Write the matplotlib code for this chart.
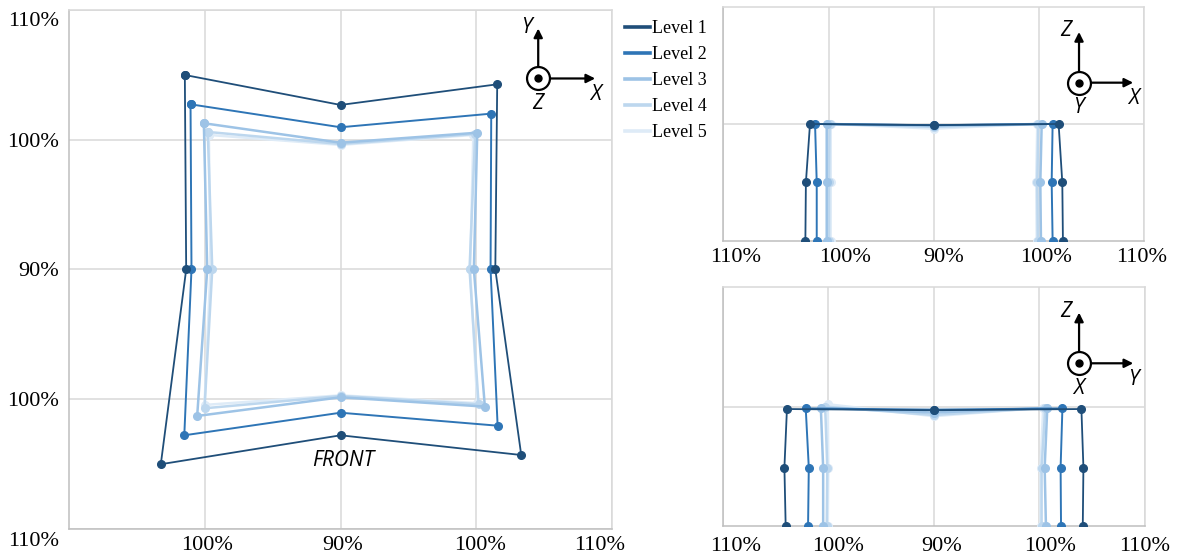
import matplotlib
matplotlib.use('Agg')
import matplotlib.pyplot as plt
from matplotlib import transforms
from matplotlib.lines import Line2D

plt.rcParams['font.family'] = 'Liberation Serif'

levels = ['Level 1', 'Level 2', 'Level 3', 'Level 4', 'Level 5']
colors = ['#1f4e79', '#2e75b6', '#9dc3e6', '#bdd7ee', '#deebf7']
widths = [1.3, 1.4, 1.8, 1.8, 1.8]

# plan view, 8 nodes per level: TL, TM, TR, RM, BR, BM, BL, LM (closed loop)
plan_x = [
    [-11.47, 0, 11.54, 11.40, 13.31, 0, -13.24, -11.37],
    [-11.05, 0, 11.10, 11.05, 11.57, 0, -11.51, -10.98],
    [-10.07, 0, 10.07, 9.82, 10.63, 0, -10.56, -9.82],
    [-9.78, 0, 9.92, 9.50, 10.17, 0, -10.02, -9.45],
    [-9.70, 0, 9.78, 9.55, 10.07, 0, -10.02, -9.58],
]
plan_y = [
    [14.99, 12.68, 14.27, 0, -14.30, -12.78, -15.01, 0],
    [12.73, 10.96, 12.01, 0, -12.04, -11.04, -12.78, 0],
    [11.27, 9.77, 10.54, 0, -10.57, -9.85, -11.29, 0],
    [10.60, 9.67, 10.44, 0, -10.39, -9.75, -10.70, 0],
    [10.37, 9.60, 10.37, 0, -10.30, -9.70, -10.44, 0],
]

# XZ elevation, 7 nodes: LB, LM, LT, CT, RT, RM, RB
xz_x = [
    [-12.20, -12.15, -11.76, 0, 11.88, 12.23, 12.29],
    [-11.12, -11.12, -11.28, 0, 11.31, 11.22, 11.31],
    [-10.17, -10.17, -10.17, 0, 10.27, 10.14, 10.20],
    [-9.95, -9.95, -9.90, 0, 9.95, 9.85, 9.90],
    [-9.80, -9.79, -9.79, 0, 9.85, 9.75, 9.80],
]
xz_z = [
    [0, 0.50, 1.00, 0.99, 1.00, 0.50, 0],
    [0, 0.50, 1.00, 0.99, 1.00, 0.50, 0],
    [0, 0.50, 1.00, 0.985, 1.00, 0.50, 0],
    [0, 0.50, 1.00, 0.975, 1.00, 0.50, 0],
    [0, 0.50, 1.00, 0.96, 1.00, 0.50, 0],
]

# YZ elevation, same node order
yz_y = [
    [-14.04, -14.16, -13.92, 0, 13.97, 14.16, 14.10],
    [-11.92, -11.85, -12.14, 0, 12.17, 12.00, 12.04],
    [-10.49, -10.49, -10.71, 0, 10.74, 10.49, 10.61],
    [-10.15, -10.10, -10.30, 0, 10.55, 10.20, 10.20],
    [-10.05, -10.00, -10.05, 0, 10.35, 10.10, 10.10],
]
yz_z = [
    [0, 0.49, 0.98, 0.97, 0.98, 0.49, 0],
    [0, 0.49, 0.985, 0.975, 0.985, 0.49, 0],
    [0, 0.49, 0.99, 0.95, 0.99, 0.49, 0],
    [0, 0.49, 1.00, 0.93, 0.99, 0.49, 0],
    [0, 0.49, 1.02, 0.92, 0.99, 0.49, 0],
]

pct_ticks = [-20, -10, 0, 10, 20]
pct_labels = ['110%', '100%', '90%', '100%', '110%']

fig = plt.figure(figsize=(11.8, 5.6), dpi=100)
ax_plan = fig.add_axes([0.0585, 0.0554, 0.4602, 0.9268])
ax_xz = fig.add_axes([0.6130, 0.5702, 0.3565, 0.4168])
ax_yz = fig.add_axes([0.6125, 0.0607, 0.3579, 0.4263])


def style(ax):
    ax.set_xlim(-20, 20)
    for side in ['top', 'right']:
        ax.spines[side].set_color('#d9d9d9')
    for side in ['left', 'bottom']:
        ax.spines[side].set_color('#bfbfbf')
    for sp in ax.spines.values():
        sp.set_linewidth(1.1)
    ax.grid(True, color='#d9d9d9', lw=1.1)
    ax.set_axisbelow(True)
    ax.tick_params(length=0, labelsize=16, pad=5)


def nudge(labels, dxs, dys=None):
    # shift tick labels by pixels (dy > 0 moves down)
    if dys is None:
        dys = [0] * len(dxs)
    for lab, dx, dy in zip(labels, dxs, dys):
        lab.set_transform(lab.get_transform() +
                          transforms.ScaledTranslation(dx / 100, -dy / 100, fig.dpi_scale_trans))


def triad(ax, cx, cy, hlab, vlab, clab, hlen, vlen, vx):
    kw = dict(transform=ax.transAxes, clip_on=False, zorder=6)
    ax.plot([cx], [cy], 'o', ms=16.5, mfc='white', mec='black', mew=1.6, **kw)
    ax.plot([cx], [cy], 'o', ms=5, color='black', **kw)
    arrow = dict(arrowstyle='-|>', lw=1.6, color='black', mutation_scale=13,
                 shrinkA=0, shrinkB=0)
    for dx, dy in [(hlen, 0), (0, vlen)]:
        tip = transforms.offset_copy(ax.transAxes, fig=fig, x=dx, y=dy, units='points')
        ax.annotate('', xy=(cx, cy), xycoords=tip, xytext=(cx, cy),
                    textcoords='axes fraction', arrowprops=arrow, zorder=5)
    tk = dict(family='Open Sans', style='italic', fontsize=15, ha='center', va='center')
    for txt, dx, dy in [(vlab, vx, vlen + 1), (hlab, hlen, -11.5), (clab, -0.5, -18)]:
        tr = transforms.offset_copy(ax.transAxes, fig=fig, x=dx, y=dy, units='points')
        ax.text(cx, cy, txt, transform=tr, **tk)


# plan view
for i in reversed(range(len(levels))):
    xs = plan_x[i] + plan_x[i][:1]
    ys = plan_y[i] + plan_y[i][:1]
    ax_plan.plot(xs, ys, '-o', color=colors[i], lw=widths[i], ms=5.5, zorder=3)
style(ax_plan)
ax_plan.set_ylim(-20, 20)
ax_plan.set_xticks(pct_ticks[1:])
ax_plan.set_xticklabels(pct_labels[1:])
ax_plan.set_yticks(pct_ticks[::-1])
ax_plan.set_yticklabels(pct_labels)
ax_plan.tick_params(axis='y', pad=7)
nudge(ax_plan.get_xticklabels(), [2, 2, 4, -12])
nudge(ax_plan.get_yticklabels(), [0, 0, 0, 0, 0], [9, 0, 0, 0, 10])
ax_plan.text(0.2, -14.7, 'FRONT', family='Open Sans', style='italic', fontsize=15,
             ha='center', va='center')
triad(ax_plan, 0.864, 0.868, 'X', 'Y', 'Z', 41, 36, -8.4)

# XZ elevation
for i in reversed(range(len(levels))):
    ax_xz.plot(xz_x[i], xz_z[i], '-o', color=colors[i], lw=widths[i], ms=5.5, zorder=3)
style(ax_xz)
ax_xz.set_ylim(0, 2)
ax_xz.set_yticks([1])
ax_xz.set_yticklabels([])
ax_xz.set_xticks(pct_ticks)
ax_xz.set_xticklabels(pct_labels)
nudge(ax_xz.get_xticklabels(), [12, 17, 10, 7, -2])
triad(ax_xz, 0.8455, 0.677, 'X', 'Z', 'Y', 39, 36.5, -9.4)

# YZ elevation
for i in reversed(range(len(levels))):
    ax_yz.plot(yz_y[i], yz_z[i], '-o', color=colors[i], lw=widths[i], ms=5.5, zorder=3)
style(ax_yz)
ax_yz.set_ylim(0, 2)
ax_yz.set_yticks([1])
ax_yz.set_yticklabels([])
ax_yz.set_xticks(pct_ticks)
ax_yz.set_xticklabels(pct_labels)
ax_yz.tick_params(axis='x', pad=8)
nudge(ax_yz.get_xticklabels(), [13, 10, 8, 11, 0])
triad(ax_yz, 0.8437, 0.6816, 'Y', 'Z', 'X', 39, 36.5, -9.4)

handles = [Line2D([], [], color=c, lw=2.6) for c in colors]
fig.legend(handles, levels, loc='upper left', bbox_to_anchor=(625 / 1180, 1 - 20 / 560),
           frameon=False, fontsize=13, handlelength=1.4, handletextpad=0.1,
           labelspacing=0.5, borderpad=0, borderaxespad=0)

fig.savefig('out.png', dpi=100)
